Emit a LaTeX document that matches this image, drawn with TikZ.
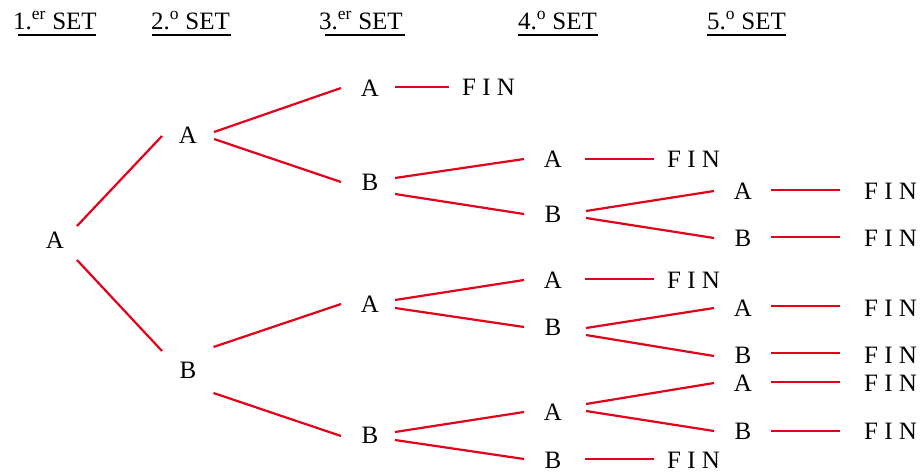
\documentclass[tikz,border=0pt]{standalone}
\usepackage{fontspec}
\setmainfont{Liberation Serif}
\definecolor{tred}{RGB}{226,0,26}
\newcommand\FINtext{F\hspace{0.25em}I\hspace{0.25em}N}
\begin{document}
\begin{tikzpicture}[x=1pt,y=-1pt,
  lbl/.style={inner sep=0pt, anchor=base, font=\fontsize{25}{30}\selectfont},
  hdr/.style={inner sep=0pt, anchor=base west, font=\fontsize{25}{30}\selectfont},
  edge/.style={draw=tred, line width=2.2pt},
  uline/.style={draw=black, line width=1.3pt}]
\useasboundingbox (0,0) rectangle (920,471);

% headers
\node[hdr] (h1) at (13,29) {1.\textsuperscript{er} SET};
\node[hdr] (h2) at (151,29) {2.\textsuperscript{o} SET};
\node[hdr] (h3) at (319,29) {3.\textsuperscript{er} SET};
\node[hdr] (h4) at (518,29) {4.\textsuperscript{o} SET};
\node[hdr] (h5) at (707,29) {5.\textsuperscript{o} SET};
\draw[uline] ([shift={(5,6)}]h1.base west) -- ([shift={(83,6)}]h1.base west);
\draw[uline] ([shift={(1,6)}]h2.base west) -- ([shift={(80,6)}]h2.base west);
\draw[uline] ([shift={(6,6)}]h3.base west) -- ([shift={(86,6)}]h3.base west);
\draw[uline] ([shift={(0,6)}]h4.base west) -- ([shift={(80,6)}]h4.base west);
\draw[uline] ([shift={(0,6)}]h5.base west) -- ([shift={(79,6)}]h5.base west);

% level 1-3
\node[lbl] (a1) at (55,248) {A};
\node[lbl] (a2) at (188,143.5) {A};
\node[lbl] (b2) at (188,378) {B};
\node[lbl] (a3) at (370,96.5) {A};
\node[lbl] (b3) at (370,190) {B};
\node[lbl] (c3) at (370,312) {A};
\node[lbl] (d3) at (370,443) {B};
\node[lbl] (f3) at (488.5,95.5) {\FINtext};
% level 4
\node[lbl] (a4) at (553,167) {A};
\node[lbl] (b4) at (553,222) {B};
\node[lbl] (c4) at (553,288) {A};
\node[lbl] (d4) at (553,335) {B};
\node[lbl] (e4) at (553,420.5) {A};
\node[lbl] (g4) at (553,468) {B};
\node[lbl] (fa4) at (693.5,167) {\FINtext};
\node[lbl] (fc4) at (693.5,288) {\FINtext};
\node[lbl] (fg4) at (693.5,468) {\FINtext};
% level 5
\node[lbl] (a5) at (743,199) {A};
\node[lbl] (b5) at (743,246) {B};
\node[lbl] (c5) at (743,316) {A};
\node[lbl] (d5) at (743,363) {B};
\node[lbl] (e5) at (743,391) {A};
\node[lbl] (g5) at (743,439) {B};
\node[lbl] (fa5) at (890.5,199) {\FINtext};
\node[lbl] (fb5) at (890.5,246) {\FINtext};
\node[lbl] (fc5) at (890.5,316) {\FINtext};
\node[lbl] (fd5) at (890.5,363) {\FINtext};
\node[lbl] (fe5) at (890.5,391) {\FINtext};
\node[lbl] (fg5) at (890.5,439) {\FINtext};

% edges
\draw[edge] ([shift={(22,-22)}]a1.base) -- ([shift={(-26,-7.5)}]a2.base);
\draw[edge] ([shift={(22,12)}]a1.base) -- ([shift={(-26,-27)}]b2.base);
\draw[edge] ([shift={(26,-11.5)}]a2.base) -- ([shift={(-29,-8.5)}]a3.base);
\draw[edge] ([shift={(26,-4.5)}]a2.base) -- ([shift={(-29,-8)}]b3.base);
\draw[edge] ([shift={(25.5,-31)}]b2.base) -- ([shift={(-29,-8)}]c3.base);
\draw[edge] ([shift={(25.5,15)}]b2.base) -- ([shift={(-29,-7)}]d3.base);
\draw[edge] ([shift={(25,-9.5)}]a3.base) -- ([shift={(-39.5,-8.5)}]f3.base);
\draw[edge] ([shift={(25,-12)}]b3.base) -- ([shift={(-29,-8)}]a4.base);
\draw[edge] ([shift={(25,4)}]b3.base) -- ([shift={(-29,-8)}]b4.base);
\draw[edge] ([shift={(25,-12)}]c3.base) -- ([shift={(-29,-8)}]c4.base);
\draw[edge] ([shift={(25,-4)}]c3.base) -- ([shift={(-29,-8)}]d4.base);
\draw[edge] ([shift={(25,-11)}]d3.base) -- ([shift={(-29,-8.5)}]e4.base);
\draw[edge] ([shift={(25,-3)}]d3.base) -- ([shift={(-29,-9)}]g4.base);
\draw[edge] ([shift={(32,-8)}]a4.base) -- ([shift={(-39.5,-8)}]fa4.base);
\draw[edge] ([shift={(33,-11)}]b4.base) -- ([shift={(-29,-8)}]a5.base);
\draw[edge] ([shift={(33,-4)}]b4.base) -- ([shift={(-29,-8)}]b5.base);
\draw[edge] ([shift={(32,-9)}]c4.base) -- ([shift={(-39.5,-9)}]fc4.base);
\draw[edge] ([shift={(33,-7)}]d4.base) -- ([shift={(-29,-8)}]c5.base);
\draw[edge] ([shift={(33,0)}]d4.base) -- ([shift={(-29,-7)}]d5.base);
\draw[edge] ([shift={(33,-16.5)}]e4.base) -- ([shift={(-29,-8)}]e5.base);
\draw[edge] ([shift={(33,-9.5)}]e4.base) -- ([shift={(-29,-8)}]g5.base);
\draw[edge] ([shift={(32,-9)}]g4.base) -- ([shift={(-39.5,-9)}]fg4.base);
\draw[edge] ([shift={(28,-9)}]a5.base) -- ([shift={(-50.5,-9)}]fa5.base);
\draw[edge] ([shift={(28,-9)}]b5.base) -- ([shift={(-50.5,-9)}]fb5.base);
\draw[edge] ([shift={(28,-10)}]c5.base) -- ([shift={(-50.5,-10)}]fc5.base);
\draw[edge] ([shift={(28,-10)}]d5.base) -- ([shift={(-50.5,-10)}]fd5.base);
\draw[edge] ([shift={(28,-9)}]e5.base) -- ([shift={(-50.5,-9)}]fe5.base);
\draw[edge] ([shift={(28,-8)}]g5.base) -- ([shift={(-50.5,-8)}]fg5.base);
\end{tikzpicture}
\end{document}
